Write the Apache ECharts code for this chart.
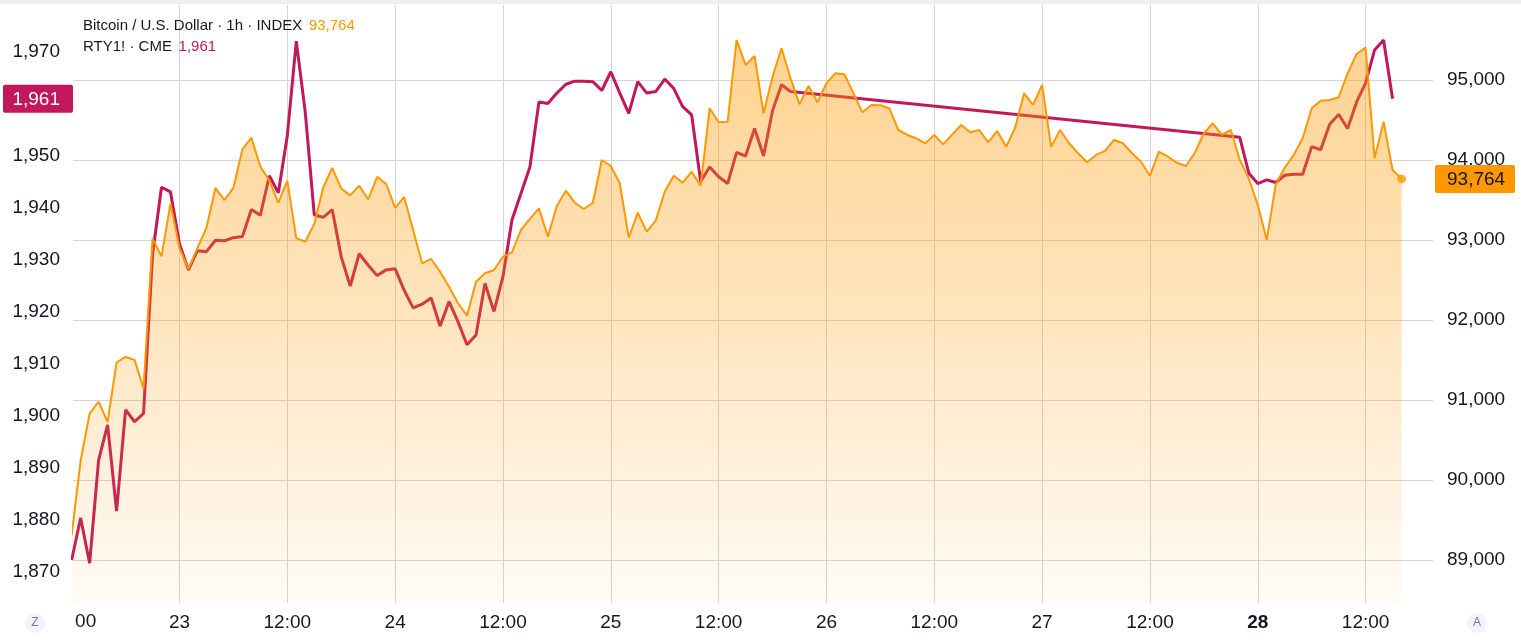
<!DOCTYPE html>
<html>
<head>
<meta charset="utf-8">
<script src="https://cdn.jsdelivr.net/npm/echarts@6/dist/echarts.min.js"></script>
<style>
html,body{margin:0;padding:0;background:#ffffff;}
#main{width:1521px;height:642px;}
</style>
</head>
<body>
<div id="main"></div>
<script>
// ---- data (hours counted from Apr 23 00:00) ----
const btcStartHour = -12;
const btcValues = [
  89310, 90241, 90830, 90978, 90725, 91469, 91538, 91500, 91143, 93018,
  92795, 93455, 92900, 92638, 92900, 93151, 93651, 93500, 93651, 94134,
  94281, 93915, 93745, 93464, 93738, 93023, 92978, 93201, 93656, 93901,
  93643, 93558, 93679, 93509, 93790, 93701, 93401, 93538, 93125, 92709,
  92763, 92604, 92416, 92209, 92054, 92479, 92584, 92625, 92791, 92846,
  93125, 93263, 93396, 93041, 93429, 93616, 93466, 93388, 93466, 94000,
  93925, 93709, 93029, 93341, 93104, 93241, 93604, 93804, 93716, 93854,
  93679, 94646, 94471, 94479, 95500, 95188, 95300, 94584, 95041, 95396,
  95021, 94696, 94925, 94721, 94959, 95084, 95071, 94834, 94596, 94688,
  94684, 94646, 94375, 94313, 94271, 94209, 94313, 94196, 94321, 94438,
  94346, 94375, 94221, 94363, 94166, 94404, 94834, 94688, 94938, 94166,
  94375, 94209, 94084, 93971, 94063, 94113, 94250, 94209, 94084, 93979,
  93804, 94104, 94041, 93966, 93925, 94091, 94334, 94459, 94313, 94375,
  94000, 93771, 93438, 93000, 93696, 93904, 94063, 94271, 94646, 94741,
  94750, 94784, 95084, 95325, 95404, 94021, 94479, 93875, 93764
];
const rtyWeekStartHour = -12;
const rtyWeekValues = [
  1872.3, 1880.4, 1871.7, 1891.5, 1898.3, 1881.7, 1901.2, 1898.9, 1900.5, 1931.0,
  1944.0, 1943.1, 1933.1, 1928.1, 1931.8, 1931.6, 1933.8, 1933.7, 1934.3, 1934.5,
  1939.7, 1938.6, 1946.2, 1942.9, 1953.9, 1972.1, 1958.4, 1938.7, 1938.2, 1939.7,
  1930.6, 1925.0, 1931.2, 1929.0, 1927.0, 1928.1, 1928.3, 1924.2, 1920.8, 1921.5,
  1922.7, 1917.3, 1922.0, 1918.1, 1913.7, 1915.6, 1925.5, 1920.1, 1926.8, 1937.7,
  1942.8, 1947.9, 1960.4, 1960.1, 1962.1, 1963.8, 1964.4, 1964.4, 1964.3, 1962.6,
  1966.2, 1962.1, 1958.2, 1964.3, 1962.1, 1962.4, 1964.8, 1963.0, 1959.5, 1957.9,
  1945.1, 1947.9, 1946.0, 1944.7, 1950.7, 1950.0, 1955.3, 1950.0, 1958.7, 1963.7,
  1962.4
];
const rtyMonStartHour = 118;
const rtyMonValues = [
  1953.6, 1946.7, 1944.7, 1945.4, 1944.9, 1946.3, 1946.5, 1946.5, 1951.8, 1951.2,
  1956.1, 1958.0, 1955.3, 1960.4, 1964.0, 1970.4, 1972.3, 1961.0
];
const xTickHours = [0, 12, 24, 36, 48, 60, 72, 84, 96, 108, 120, 132];
const firstDay = 23;
const boldDay = 28;
const leftTicks = [1870, 1880, 1890, 1900, 1910, 1920, 1930, 1940, 1950, 1960, 1970];
const rightTicks = [89000, 90000, 91000, 92000, 93000, 94000, 95000];
const btcTitle = 'Bitcoin / U.S. Dollar · 1h · INDEX';
const rtyTitle = 'RTY1! · CME';
const clippedLabel = '00';

// ---- build ----
const FONT = '"Liberation Sans", Arial, sans-serif';
const TXT = '#131722';
const ORANGE = '#FF9800';
const MAGENTA = '#C2185B';
function fmtNum(v) { return String(Math.round(v)).replace(/\B(?=(\d{3})+(?!\d))/g, ','); }
function pairs(start, vals) { return vals.map((v, i) => [start + i, v]); }
const btcData = pairs(btcStartHour, btcValues);
const rtyData = pairs(rtyWeekStartHour, rtyWeekValues).concat(pairs(rtyMonStartHour, rtyMonValues));
const btcLast = btcValues[btcValues.length - 1];
const btcLastHour = btcStartHour + btcValues.length - 1;
const rtyLast = rtyMonValues[rtyMonValues.length - 1];

const chart = echarts.init(document.getElementById('main'), null, {renderer: 'canvas'});
const option = {
  animation: false,
  backgroundColor: '#ffffff',
  grid: {left: 73, right: 88, top: 5, bottom: 39, outerBoundsMode: 'none'},
  xAxis: {
    type: 'value', min: -11.85, max: 139.5,
    axisLine: {show: false},
    axisTick: {show: false, customValues: xTickHours},
    axisLabel: {
      customValues: xTickHours, color: TXT, fontSize: 19, fontFamily: FONT, margin: 10,
      formatter: function (v) {
        if (v % 24 === 0) {
          const d = firstDay + v / 24;
          return d === boldDay ? '{b|' + d + '}' : String(d);
        }
        return '12:00';
      },
      rich: {b: {fontWeight: 'bold', fontSize: 19, color: TXT, fontFamily: FONT}}
    },
    splitLine: {show: true, lineStyle: {color: '#d4d4d4', width: 1}}
  },
  yAxis: [
    {
      type: 'value', position: 'left', min: 1864.04, max: 1979.04,
      axisLine: {show: false},
      axisTick: {show: false, customValues: leftTicks},
      axisLabel: {customValues: leftTicks, formatter: fmtNum, color: TXT, fontSize: 19, fontFamily: FONT, margin: 13},
      splitLine: {show: false}
    },
    {
      type: 'value', position: 'right', min: 88462.5, max: 95937.5,
      axisLine: {show: false},
      axisTick: {show: false, customValues: rightTicks},
      axisLabel: {customValues: rightTicks, formatter: fmtNum, color: TXT, fontSize: 19, fontFamily: FONT, margin: 14},
      splitLine: {show: true, lineStyle: {color: '#d4d4d4', width: 1}}
    }
  ],
  series: [
    {
      name: 'RTY1!', type: 'line', yAxisIndex: 0, data: rtyData, showSymbol: false, silent: true,
      lineStyle: {color: MAGENTA, width: 3}, z: 2
    },
    {
      name: 'BTCUSD', type: 'line', yAxisIndex: 1, data: btcData, showSymbol: false, silent: true,
      lineStyle: {color: ORANGE, width: 2},
      areaStyle: {
        origin: 'start',
        color: new echarts.graphic.LinearGradient(0, 0, 0, 1, [
          {offset: 0, color: 'rgba(255,152,0,0.62)'},
          {offset: 0.5, color: 'rgba(255,152,0,0.36)'},
          {offset: 1, color: 'rgba(255,152,0,0.05)'}
        ])
      },
      z: 3
    },
    {
      type: 'scatter', yAxisIndex: 1, data: [[btcLastHour, btcLast]], symbolSize: 9, silent: true,
      itemStyle: {color: ORANGE}, z: 4
    }
  ]
};
chart.setOption(option);

const yBtc = chart.convertToPixel({yAxisIndex: 1}, btcLast);
const yRty = chart.convertToPixel({yAxisIndex: 0}, rtyLast);
const xFirst = chart.convertToPixel({xAxisIndex: 0}, -12);

chart.setOption({
  graphic: [
    {type: 'rect', shape: {x: 0, y: 0, width: 1521, height: 4}, style: {fill: '#eef0f3'}, z: 10},
    {
      type: 'text', left: 83, top: 18, z: 10,
      style: {
        text: '{t|' + btcTitle + '}  {o|' + fmtNum(btcLast) + '}\n{t|' + rtyTitle + '}  {m|' + fmtNum(rtyLast) + '}',
        rich: {
          t: {fontSize: 15, fontFamily: FONT, fill: TXT, lineHeight: 21},
          o: {fontSize: 15, fontFamily: FONT, fill: ORANGE, lineHeight: 21},
          m: {fontSize: 15, fontFamily: FONT, fill: MAGENTA, lineHeight: 21}
        }
      }
    },
    {type: 'text', x: xFirst + 14, y: 622, z: 10,
      style: {text: clippedLabel, fontSize: 19, fontFamily: FONT, fill: TXT, align: 'center', verticalAlign: 'middle'}},
    {type: 'circle', shape: {cx: 35, cy: 623, r: 10}, style: {fill: '#f0f3fa'}, z: 10},
    {type: 'text', x: 35, y: 623, z: 11,
      style: {text: 'Z', fontSize: 12, fontFamily: FONT, fill: '#787b86', align: 'center', verticalAlign: 'middle'}},
    {type: 'circle', shape: {cx: 1477, cy: 623, r: 10}, style: {fill: '#f0f3fa'}, z: 10},
    {type: 'text', x: 1477, y: 623, z: 11,
      style: {text: 'A', fontSize: 12, fontFamily: FONT, fill: '#787b86', align: 'center', verticalAlign: 'middle'}},
    {type: 'rect', shape: {x: 3, y: yRty - 14, width: 70, height: 28, r: 2}, style: {fill: MAGENTA}, z: 10},
    {type: 'text', x: 60, y: yRty + 1, z: 11,
      style: {text: fmtNum(rtyLast), fontSize: 19, fontFamily: FONT, fill: '#ffffff', align: 'right', verticalAlign: 'middle'}},
    {type: 'rect', shape: {x: 1435, y: yBtc - 14, width: 80, height: 28, r: 2}, style: {fill: ORANGE}, z: 10},
    {type: 'text', x: 1447, y: yBtc + 1, z: 11,
      style: {text: fmtNum(btcLast), fontSize: 19, fontFamily: FONT, fill: TXT, align: 'left', verticalAlign: 'middle'}}
  ]
});
</script>
</body>
</html>
